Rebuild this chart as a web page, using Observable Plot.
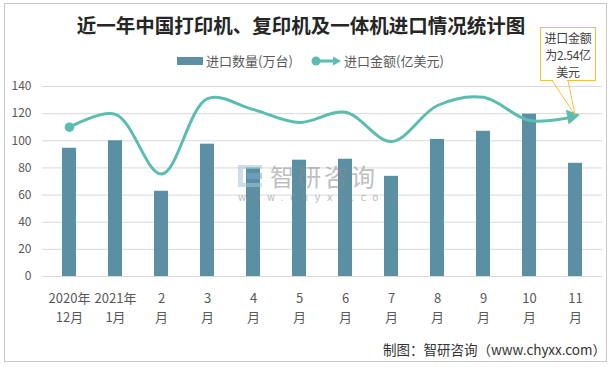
<!DOCTYPE html>
<html><head><meta charset="utf-8">
<script src="https://cdn.jsdelivr.net/npm/d3@7"></script>
<script src="https://cdn.jsdelivr.net/npm/@observablehq/plot@0.6"></script>
<style>
body{margin:0;background:#fff;font-family:"Noto Sans CJK SC","Noto Sans",sans-serif;}
#wrap{position:relative;width:616px;height:367px;overflow:hidden;background:#fff;}
#frame{position:absolute;left:4px;top:3px;width:603px;height:359px;border:1px solid #c8c8c8;box-sizing:border-box;}
#title{position:absolute;left:0;width:602px;top:10px;text-align:center;font-size:19.5px;font-weight:700;color:#262626;line-height:30px;}
#legend{position:absolute;top:51px;left:0;height:20px;font-size:13px;color:#595959;line-height:20px;}
.lg{position:absolute;white-space:nowrap;}
#chart{position:absolute;left:0;top:0;}
#wm{position:absolute;left:238px;top:163px;width:150px;height:44px;pointer-events:none;opacity:0.55;}
#note{position:absolute;left:540px;top:27px;width:56px;height:54px;border:1px solid #f2bf3c;box-sizing:border-box;background:#fff;font-size:12px;color:#404040;text-align:center;line-height:17px;padding-top:1px;white-space:nowrap;letter-spacing:-0.3px;}
#caption{position:absolute;right:10px;top:339px;font-size:13.5px;color:#333;white-space:nowrap;}
</style></head><body>
<div id="wrap">
  <div id="frame"></div>
  <div id="title">近一年中国打印机、复印机及一体机进口情况统计图</div>
  <div id="legend"></div>
  <div id="chart"></div>
  <div id="wm">
    <div style="position:absolute;left:0;top:2px;width:24px;height:22px;">
      <div style="position:absolute;left:0;top:0;width:24px;height:4px;background:#a9c4de"></div>
      <div style="position:absolute;left:0;top:0;width:5px;height:22px;background:#a9c4de"></div>
      <div style="position:absolute;left:0;top:18px;width:24px;height:4px;background:#a9c4de"></div>
      <div style="position:absolute;left:9px;top:8px;width:15px;height:6px;background:#7fa8cf"></div>
    </div>
    <div style="position:absolute;left:32px;top:0px;font-size:24px;line-height:26px;color:#8c8c8c;letter-spacing:3px;white-space:nowrap;">智研咨询</div>
    <div style="position:absolute;left:0;top:29px;font-size:10px;line-height:12px;color:#8c8c8c;letter-spacing:6.3px;white-space:nowrap;font-family:'DejaVu Sans';">www.chyxx.com</div>
  </div>
  <div id="note">进口金额<br>为2.54亿<br>美元</div>
  <div id="caption">制图：智研咨询（www.chyxx.com）</div>
</div>
<script>
const categories = ["2020年12月","2021年1月","2月","3月","4月","5月","6月","7月","8月","9月","10月","11月"];
const tickLabels = ["2020年\n12月","2021年\n1月","2\n月","3\n月","4\n月","5\n月","6\n月","7\n月","8\n月","9\n月","10\n月","11\n月"];
const quantity = [94.5, 100, 62.8, 97.5, 80, 85.7, 86.4, 73.8, 101, 107, 119.6, 83.4];
const amount = [110, 119.5, 75.5, 131, 123, 113.5, 121, 99.5, 126, 132, 115, 118];
const yTicks = [0, 20, 40, 60, 80, 100, 120, 140];
const seriesNames = ["进口数量(万台)", "进口金额(亿美元)"];

const barColor = "#5b8fa3";
const lineColor = "#5cbcb0";

const data = categories.map((c, i) => ({cat: c, q: quantity[i], a: amount[i]}));

const plot = Plot.plot({
  width: 616, height: 367,
  marginTop: 86, marginBottom: 91, marginLeft: 42, marginRight: 14,
  style: {color: "#595959", fontFamily: "'Noto Sans CJK SC', sans-serif", background: "transparent"},
  x: {domain: categories, paddingInner: 0.7, paddingOuter: 0.35, axis: null},
  y: {domain: [0, 140], axis: null},
  marks: [
    Plot.ruleY(yTicks, {stroke: "#d9d9d9", strokeWidth: 1}),
    Plot.axisY({ticks: yTicks, tickSize: 0, tickPadding: 11, fontSize: 12, label: null}),
    Plot.axisX({tickSize: 0, tickPadding: 13, fontSize: 13, lineHeight: 1.45, label: null,
      tickFormat: d => tickLabels[categories.indexOf(d)]}),
    Plot.barY(data, {x: "cat", y: "q", fill: barColor}),
    Plot.line(data, {x: "cat", y: "a", stroke: lineColor, strokeWidth: 3, curve: "catmull-rom"}),
    Plot.dot(data.slice(0, 1), {x: "cat", y: "a", r: 4.8, fill: lineColor}),
    Plot.dot(data.slice(-1), {x: "cat", y: "a", symbol: "triangle", r: 5.5, fill: lineColor, rotate: 80, dx: -4})
  ]
});
document.getElementById("chart").appendChild(plot);

// callout pointer from the note box to the last amount point
const xs = plot.scale("x"), ys = plot.scale("y");
const last = data[data.length - 1];
const tipX = xs.apply(last.cat) + xs.bandwidth / 2;
const tipY = ys.apply(last.a);
const svgNS = "http://www.w3.org/2000/svg";
const ptr = document.createElementNS(svgNS, "svg");
ptr.setAttribute("width", 616); ptr.setAttribute("height", 367);
ptr.style.position = "absolute"; ptr.style.left = "0"; ptr.style.top = "0"; ptr.style.pointerEvents = "none";
const poly = document.createElementNS(svgNS, "polyline");
poly.setAttribute("points", `552,80.5 ${tipX},${tipY - 1} 568,80.5`);
poly.setAttribute("fill", "none");
poly.setAttribute("stroke", "#f2bf3c");
poly.setAttribute("stroke-width", "1");
ptr.appendChild(poly);
const wrap = document.getElementById("wrap");
wrap.insertBefore(ptr, document.getElementById("note"));
const gap = document.createElement("div");
gap.style.cssText = "position:absolute;left:553px;top:80px;width:14px;height:2px;background:#fff;z-index:5";
wrap.appendChild(gap);

// legend
const lg = document.getElementById("legend");
lg.innerHTML = `
  <div class="lg" style="left:177px;top:6px;width:26px;height:8px;background:${barColor}"></div>
  <div class="lg" style="left:206px;top:0">${seriesNames[0]}</div>
  <svg class="lg" style="left:309px;top:2px" width="34" height="16">
    <line x1="7" y1="8" x2="26" y2="8" stroke="${lineColor}" stroke-width="3"/>
    <circle cx="7" cy="8" r="4.5" fill="${lineColor}"/>
    <path d="M24,3.5 L32,8 L24,12.5 Z" fill="${lineColor}"/>
  </svg>
  <div class="lg" style="left:344px;top:0">${seriesNames[1]}</div>`;
</script>
</body></html>
